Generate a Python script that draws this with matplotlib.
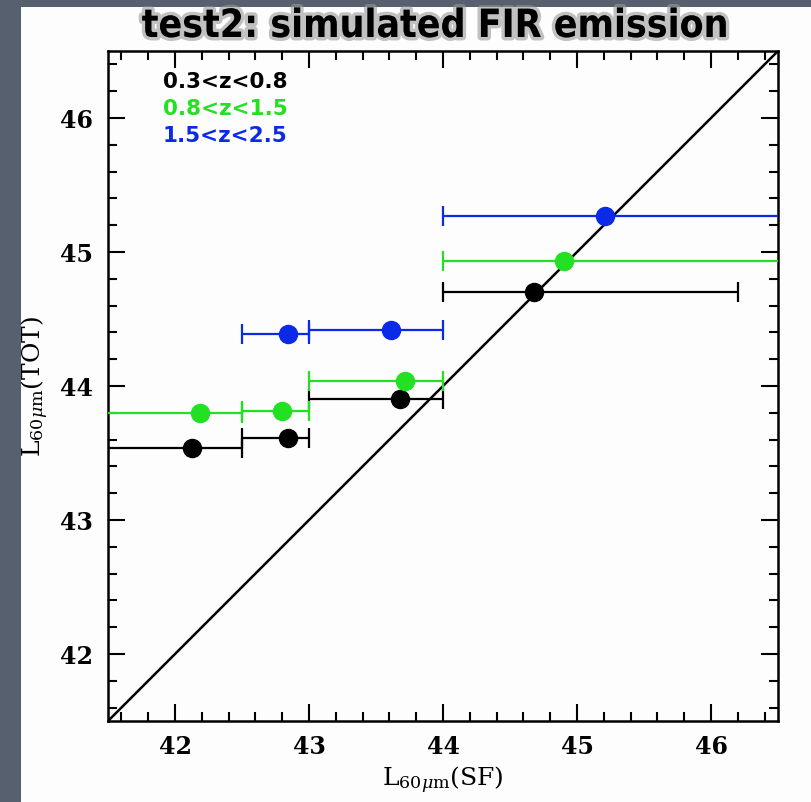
import matplotlib
matplotlib.use("Agg")
import matplotlib.pyplot as plt
import matplotlib.patheffects as pe
from matplotlib.patches import Rectangle
from matplotlib.ticker import MultipleLocator
import numpy as np

# --- data: log L60um(SF) bin centres / limits and log L60um(TOT) ---
bins = ["0.3<z<0.8", "0.8<z<1.5", "1.5<z<2.5"]
colors = ["#000000", "#22e022", "#0a2ae8"]

lsf_black = [42.13, 42.84, 43.68, 44.68]
ltot_black = [43.54, 43.61, 43.90, 44.70]
lo_black = [41.5, 42.5, 43.0, 44.0]
hi_black = [42.5, 43.0, 44.0, 46.2]

lsf_green = [42.19, 42.80, 43.72, 44.90]
ltot_green = [43.80, 43.81, 44.04, 44.93]
lo_green = [41.3, 42.5, 43.0, 44.0]
hi_green = [42.5, 43.0, 44.0, 47.0]

lsf_blue = [42.84, 43.61, 45.21]
ltot_blue = [44.39, 44.42, 45.27]
lo_blue = [42.5, 43.0, 44.0]
hi_blue = [43.0, 44.0, 47.0]

lim = (41.5, 46.5)
major_ticks = [42, 43, 44, 45, 46]

plt.rcParams["mathtext.fontset"] = "dejavuserif"

W, H = 812, 802
fig = plt.figure(figsize=(W / 100, H / 100), dpi=100)
fig.patch.set_facecolor("#56606f")
# white panel behind the plot
fig.patches.append(Rectangle((21 / W, 0), 1 - 21 / W, 1 - 7 / H,
                             transform=fig.transFigure, facecolor="#fdfdfd",
                             edgecolor="none", zorder=-5))

ax = fig.add_axes([108 / W, 81 / H, 670 / W, 670 / H])
ax.set_zorder(1)
ax.set_facecolor("#fdfdfd")
ax.set_xlim(*lim)
ax.set_ylim(*lim)

# one-to-one line
ax.axline((lim[0], lim[0]), (lim[1], lim[1]), color="black", lw=1.8, zorder=2)

series = [
    (lsf_black, ltot_black, lo_black, hi_black),
    (lsf_green, ltot_green, lo_green, hi_green),
    (lsf_blue, ltot_blue, lo_blue, hi_blue),
]
for (xs, ys, lo, hi), c in zip(series, colors):
    xs = np.array(xs)
    xerr = [xs - np.array(lo), np.array(hi) - xs]
    ax.errorbar(xs, ys, xerr=xerr, fmt="o", color=c, ms=13, mec=c,
                elinewidth=1.6, capsize=7, capthick=1.6, zorder=3,
                clip_on=True)

for i, (lab, c) in enumerate(zip(bins, colors)):
    ax.text(0.082, [0.954, 0.913, 0.873][i], lab, color=c, transform=ax.transAxes,
            fontsize=15.5, fontfamily="DejaVu Sans", fontweight="bold",
            va="center", ha="left")

ax.xaxis.set_major_locator(MultipleLocator(1))
ax.yaxis.set_major_locator(MultipleLocator(1))
ax.xaxis.set_minor_locator(MultipleLocator(0.2))
ax.yaxis.set_minor_locator(MultipleLocator(0.2))
ax.set_xticks(major_ticks)
ax.set_yticks(major_ticks)
ax.tick_params(which="both", direction="in", top=True, right=True, width=1.5)
ax.tick_params(which="major", length=12)
ax.tick_params(which="minor", length=6.5)
ax.tick_params(axis="x", which="major", pad=10)
ax.tick_params(axis="y", which="major", pad=11)
for lab in ax.get_xticklabels() + ax.get_yticklabels():
    lab.set_fontfamily("DejaVu Serif")
    lab.set_fontweight("bold")
    lab.set_fontsize(17)
for s in ax.spines.values():
    s.set_linewidth(1.8)

ax.set_xlabel(r"$\mathrm{L}_{60\mu\mathrm{m}}\mathrm{(SF)}$", fontsize=18, labelpad=4)
ax.set_ylabel(r"$\mathrm{L}_{60\mu\mathrm{m}}\mathrm{(TOT)}$", fontsize=18, labelpad=6)

fig.text(435 / W, 1 - 26 / H, "test2: simulated FIR emission",
         fontsize=28, fontweight="bold", fontstretch="condensed",
         family="DejaVu Sans",
         ha="center", va="center", color="black",
         path_effects=[pe.withStroke(linewidth=5, foreground="#9a9a9a", alpha=0.6)])

fig.savefig("out.png", dpi=100, facecolor=fig.get_facecolor())
